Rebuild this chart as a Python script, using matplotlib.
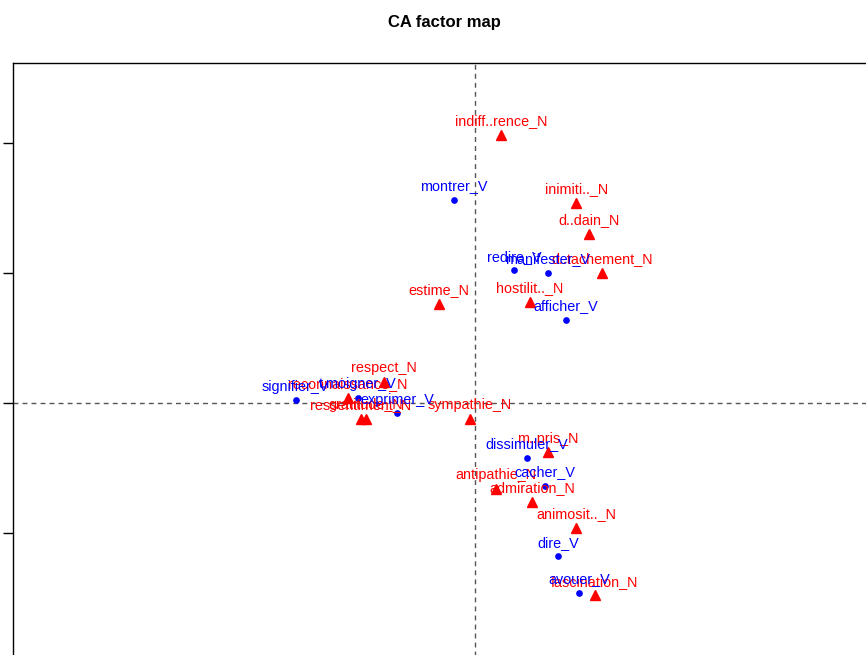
import matplotlib
matplotlib.use("Agg")
import matplotlib.pyplot as plt

# -----------------------------------
# DATA (CA coordinates, dim 1 / dim 2)
# -----------------------------------

row_names = [
    "indiff..rence_N", "inimiti.._N", "d..dain_N", "d..tachement_N",
    "estime_N", "hostilit.._N", "respect_N", "reconnaissance_N",
    "ressentiment_N", "gratitude_N", "sympathie_N", "m..pris_N",
    "antipathie_N", "admiration_N", "animosit.._N", "fascination_N",
]
row_x = [0.10, 0.39, 0.44, 0.49, -0.14, 0.21, -0.35, -0.49,
         -0.44, -0.42, -0.02, 0.28, 0.08, 0.22, 0.39, 0.46]
row_y = [1.03, 0.77, 0.65, 0.50, 0.38, 0.39, 0.08, 0.02,
         -0.06, -0.06, -0.06, -0.19, -0.33, -0.38, -0.48, -0.74]

col_names = [
    "montrer_V", "redire_V", "manifester_V", "afficher_V",
    "signifier_V", "t.moigner_V", "exprimer_V", "dissimuler_V",
    "cacher_V", "dire_V", "avouer_V",
]
col_x = [-0.08, 0.15, 0.28, 0.35, -0.69, -0.45, -0.30, 0.20,
         0.27, 0.32, 0.40]
col_y = [0.78, 0.51, 0.50, 0.32, 0.01, 0.02, -0.04, -0.21,
         -0.32, -0.59, -0.73]

# -----------------------------------
# FIGURE
# -----------------------------------

fig = plt.figure(figsize=(8.66, 6.55), dpi=100)
plt.rcParams["font.family"] = ["Liberation Sans", "DejaVu Sans"]

# plot region runs past the right and bottom edges of the picture
ax = fig.add_axes([13 / 866, -45 / 655, 862 / 866, 637 / 655])

ax.axhline(0, color="#555555", lw=1, ls=(0, (3.5, 3)), zorder=1)
ax.axvline(0, color="#555555", lw=1, ls=(0, (3.5, 3)), zorder=1)

ax.plot(row_x, row_y, ls="none", marker="^", ms=7.5,
        color="#FF0000", mec="#FF0000", zorder=3)
ax.plot(col_x, col_y, ls="none", marker="o", ms=3.8,
        color="#0000FF", mec="#0000FF", zorder=3)

for name, x, y in zip(row_names, row_x, row_y):
    ax.annotate(name, (x, y), xytext=(0, 10), textcoords="offset points",
                ha="center", va="center", color="#FF0000", fontsize=10.4)

for name, x, y in zip(col_names, col_x, col_y):
    ax.annotate(name, (x, y), xytext=(0, 10), textcoords="offset points",
                ha="center", va="center", color="#0000FF", fontsize=10.4)

ax.set_xlim(-1.777, 1.538)
ax.set_ylim(-1.142, 1.308)

ax.set_yticks([-0.5, 0, 0.5, 1.0])
ax.set_yticklabels([])
ax.set_xticks([])
ax.tick_params(axis="y", direction="out", length=7, width=1)

for side in ax.spines.values():
    side.set_linewidth(1)

fig.text(444 / 866, 1 - 22 / 655, "CA factor map", ha="center",
         va="center", fontsize=12, fontweight="bold")

fig.savefig("out.png", dpi=100)
